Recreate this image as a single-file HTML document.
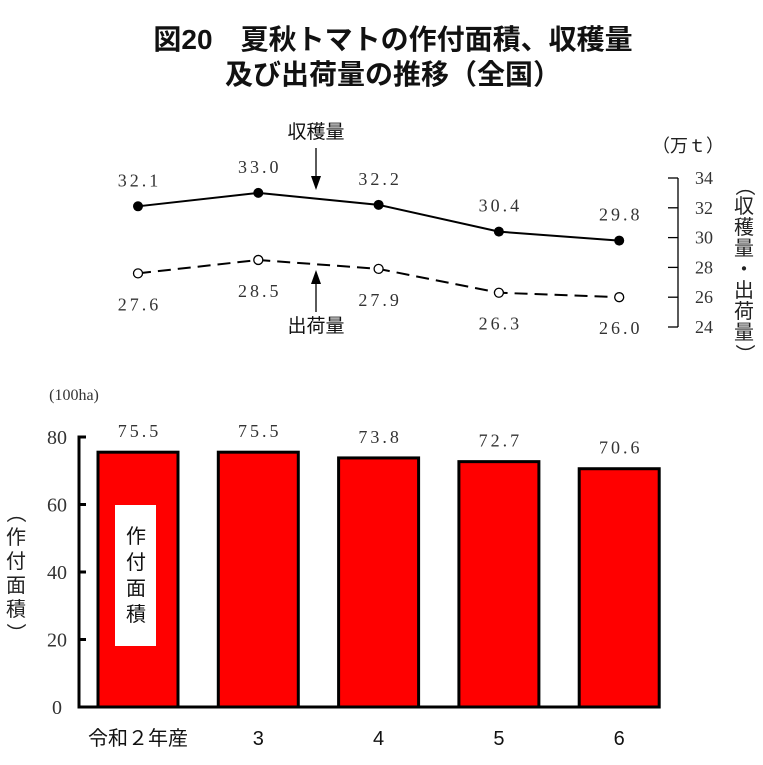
<!DOCTYPE html>
<html><head><meta charset="utf-8">
<style>
body{margin:0;background:#fff;}
svg text{font-family:"Liberation Serif","Noto Serif CJK SC",serif;}
.cjk{font-family:"Liberation Sans","Noto Sans CJK JP",sans-serif !important;}
</style></head>
<body>
<svg id="c" width="763" height="760" viewBox="0 0 763 760" xmlns="http://www.w3.org/2000/svg">
<text class="cjk" x="393" y="49" font-size="28" font-weight="bold" text-anchor="middle" fill="#111">図20　夏秋トマトの作付面積、収穫量</text>
<text class="cjk" x="393" y="84" font-size="28" font-weight="bold" text-anchor="middle" fill="#111">及び出荷量の推移（全国）</text>
<g id="lineG"></g>
<g id="barG"></g>
</svg>
<script>
const years=["令和２年産","3","4","5","6"];
const harvest=[32.1,33.0,32.2,30.4,29.8];
const shipment=[27.6,28.5,27.9,26.3,26.0];
const area=[75.5,75.5,73.8,72.7,70.6];
const rightTicks=[24,26,28,30,32,34];
const leftTicks=[0,20,40,60,80];
const NS="http://www.w3.org/2000/svg";
function mk(p,tag,at,txt){const e=document.createElementNS(NS,tag);for(const k in at)e.setAttribute(k,at[k]);if(txt!==undefined)e.textContent=txt;p.appendChild(e);return e;}
const xc=i=>138+i*120.3;
const yL=v=>327-(v-24)*14.9;
const yB=v=>707-v*3.375;
const lg=document.getElementById('lineG');
const bg=document.getElementById('barG');
const VS={'font-size':18,'letter-spacing':3,'text-anchor':'middle',fill:'#333'};
function vattr(x,y){return Object.assign({x:x+1.5,y:y},VS);}
let ax=mk(lg,'line',{x1:678,y1:yL(24),x2:678,y2:yL(34),stroke:'#000','stroke-width':1.3});


rightTicks.forEach(t=>{
 let l=mk(lg,'line',{x1:668,y1:yL(t),x2:678,y2:yL(t),stroke:'#000','stroke-width':1.3});
 
 
 let tx=mk(lg,'text',{x:704,y:yL(t)+6,'font-size':18,'text-anchor':'middle',fill:'#333'},t);
 
 
});
let u=mk(lg,'text',{class:'cjk',x:688,y:152,'font-size':18,'text-anchor':'middle',fill:'#222'},'（万ｔ）');


const vt="（収穫量・出荷量）";
[...vt].forEach((ch,i)=>{
 let t=mk(lg,'text',{class:'cjk',x:744,y:192+i*21,'font-size':20,'text-anchor':'middle',fill:'#222'},ch);
 if(ch==='（'||ch==='）')t.setAttribute('transform',`rotate(90 744 ${186+i*21})`);
 
 
});
let hp=mk(lg,'polyline',{points:harvest.map((v,i)=>xc(i)+','+yL(v)).join(' '),fill:'none',stroke:'#000','stroke-width':2});


let sp=mk(lg,'polyline',{points:shipment.map((v,i)=>xc(i)+','+yL(v)).join(' '),fill:'none',stroke:'#000','stroke-width':2,'stroke-dasharray':'13 7'});


harvest.forEach((v,i)=>{
 let c=mk(lg,'circle',{cx:xc(i),cy:yL(v),r:5,fill:'#000'});
 
 
 let t=mk(lg,'text',vattr(xc(i),yL(v)-20),v.toFixed(1));
 
 
});
shipment.forEach((v,i)=>{
 let c=mk(lg,'circle',{cx:xc(i),cy:yL(v),r:4.5,fill:'#fff',stroke:'#000','stroke-width':1.3});
 
 
 let t=mk(lg,'text',vattr(xc(i),yL(v)+37),v.toFixed(1));
 
 
});
let a1=mk(lg,'text',{class:'cjk',x:316,y:138,'font-size':19,'text-anchor':'middle',fill:'#111'},'収穫量');


mk(lg,'line',{x1:316,y1:148,x2:316,y2:180,stroke:'#000','stroke-width':1.3});
mk(lg,'polygon',{points:'311,176 321,176 316,190',fill:'#000'});
let a2=mk(lg,'text',{class:'cjk',x:316,y:332,'font-size':19,'text-anchor':'middle',fill:'#111'},'出荷量');


mk(lg,'line',{x1:316,y1:280,x2:316,y2:312,stroke:'#000','stroke-width':1.3});
mk(lg,'polygon',{points:'311,284 321,284 316,270',fill:'#000'});
let un=mk(bg,'text',{x:74,y:400,'font-size':16,'text-anchor':'middle',fill:'#333'},'(100ha)');


area.forEach((v,i)=>{
 let r=mk(bg,'rect',{x:xc(i)-40,y:yB(v),width:80,height:yB(0)-yB(v),fill:'#ff0000',stroke:'#000','stroke-width':3});
 
 
 let t=mk(bg,'text',vattr(xc(i),yB(v)-15),v.toFixed(1));
 
 
 let c=mk(bg,'text',{class:'cjk',x:xc(i),y:745,'font-size':20,'text-anchor':'middle',fill:'#111'},years[i]);
 
 
});
let ya=mk(bg,'polyline',{points:`${86},${yB(80)} 79,${yB(80)} 79,${yB(0)} 660,${yB(0)}`,fill:'none',stroke:'#000','stroke-width':3});


leftTicks.forEach(t=>{
 mk(bg,'line',{x1:79,y1:yB(t),x2:86,y2:yB(t),stroke:'#000','stroke-width':3});
 let tx=mk(bg,'text',{x:57,y:yB(t)+7,'font-size':20,'text-anchor':'middle',fill:'#333'},t);
 
 
});
let lb=mk(bg,'rect',{x:115,y:505,width:41,height:141,fill:'#fff'});


["作","付","面","積"].forEach((ch,i)=>{
 let t=mk(bg,'text',{class:'cjk',x:136,y:543+i*26,'font-size':20,'text-anchor':'middle',fill:'#111'},ch);
 
 
});
[..."（作付面積）"].forEach((ch,i)=>{
 let y=520+i*24;
 let t=mk(bg,'text',{class:'cjk',x:16,y:y,'font-size':20,'text-anchor':'middle',fill:'#222'},ch);
 if(ch==='（'||ch==='）')t.setAttribute('transform',`rotate(90 16 ${y-7})`);
 
 
});
</script>
</body></html>
